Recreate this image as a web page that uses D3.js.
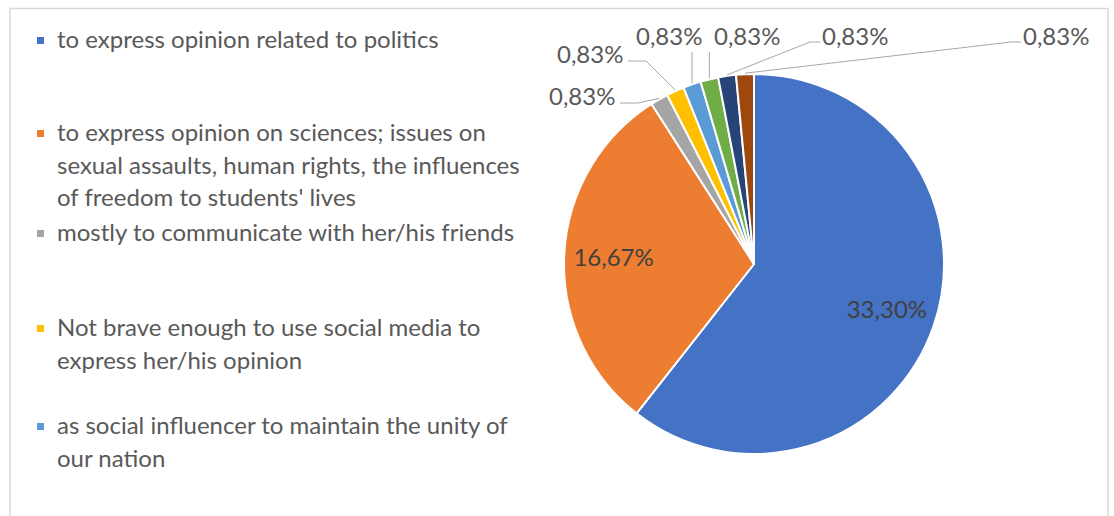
<!DOCTYPE html>
<html>
<head>
<meta charset="utf-8">
<script src="https://cdn.jsdelivr.net/npm/d3@7"></script>
<style>
  body { margin: 0; background: #fff; }
  text { font-family: Lato, "Open Sans", sans-serif; }
</style>
</head>
<body>
<div id="chart"></div>
<script>
// data
var categories = [
    "to express opinion related to politics",
    "to express opinion on sciences; issues on sexual assaults, human rights, the influences of freedom to students' lives",
    "mostly to communicate with her/his friends",
    "Not brave enough to use social media to express her/his opinion",
    "as social influencer to maintain the unity of our nation",
    "other 1",
    "other 2",
    "other 3"
];
var values = [33.30, 16.67, 0.83, 0.83, 0.83, 0.83, 0.83, 0.83];
var valueLabels = ["33,30%", "16,67%", "0,83%", "0,83%", "0,83%", "0,83%", "0,83%", "0,83%"];
var colors = ["#4472C4", "#ED7D31", "#A5A5A5", "#FFC000", "#5B9BD5", "#70AD47", "#264478", "#9E480E"];

// legend as wrapped in the picture (only the first five entries are shown)
var legendLines = [
    ["to express opinion related to politics"],
    ["to express opinion on sciences; issues on", "sexual assaults, human rights, the influences", "of freedom to students' lives"],
    ["mostly to communicate with her/his friends"],
    ["Not brave enough to use social media to", "express her/his opinion"],
    ["as social influencer to maintain the unity of", "our nation"]
];

var width = 1114, height = 516;
var cx = 754, cy = 264, radius = 190;
var fontSize = 24;

// where Excel put the small outside labels (label text left / middle y)
var outsideLabelPos = [
    null, null,
    { x: 549, y: 97, hook: "right" },
    { x: 557, y: 55, hook: "right" },
    { x: 636, y: 37, hook: "below" },
    { x: 714, y: 37, hook: "below" },
    { x: 822, y: 37, hook: "left" },
    { x: 1023, y: 37, hook: "left" }
];
var legendY = [40, 133, 233, 328, 426];

var svg = d3.select('#chart')
    .append('svg')
    .attr('width', width)
    .attr('height', height);

// chart frame
svg.append('rect')
    .attr('x', 10)
    .attr('y', 8.5)
    .attr('width', 1098)
    .attr('height', 540)
    .attr('fill', '#fff')
    .attr('stroke', '#d9d9d9')
    .attr('stroke-width', 1.5);

var pieData = d3.pie().sort(null)(values);

var arc = d3.arc().innerRadius(0).outerRadius(radius);
var labelArc = d3.arc().innerRadius(radius * 0.74).outerRadius(radius * 0.74);
var edgeArc = d3.arc().innerRadius(radius).outerRadius(radius);

var g = svg.append('g')
    .attr('transform', "translate(" + cx + "," + cy + ")");

g.selectAll('.slice')
    .data(pieData)
    .enter()
    .append('path')
    .attr('class', 'slice')
    .attr('d', arc)
    .attr('fill', function(d, i) { return colors[i]; })
    .attr('stroke', '#fff')
    .attr('stroke-width', 2)
    .attr('stroke-linejoin', 'round');

// inside labels for the two big slices
g.selectAll('.inside-label')
    .data(pieData.filter(function(d) { return d.index < 2; }))
    .enter()
    .append('text')
    .attr('class', 'inside-label')
    .attr('transform', function(d) {
        var c = labelArc.centroid(d);
        return "translate(" + c[0] + "," + c[1] + ")";
    })
    .attr('text-anchor', 'middle')
    .attr('dy', '0.35em')
    .attr('font-size', fontSize)
    .attr('fill', '#404040')
    .text(function(d) { return valueLabels[d.index]; });

// outside labels with leader lines
var small = pieData.filter(function(d) { return d.index >= 2; });

var outside = svg.append('g').attr('class', 'outside-labels');

outside.selectAll('.leader')
    .data(small)
    .enter()
    .append('polyline')
    .attr('class', 'leader')
    .attr('fill', 'none')
    .attr('stroke', '#a6a6a6')
    .attr('stroke-width', 1)
    .attr('points', function(d) {
        var p = outsideLabelPos[d.index];
        var e = edgeArc.centroid(d);
        var ex = cx + e[0], ey = cy + e[1] - 1;
        var textW = 68;
        if (p.hook == "right") {
            var sx = p.x + textW + 3, sy = p.y + 6;
            return [[sx, sy], [sx + 18, sy], [ex, ey]].join(' ');
        } else if (p.hook == "below") {
            return [[ex, p.y + 15], [ex, ey]].join(' ');
        } else {
            var lx = p.x - 2, ly = p.y + 5;
            return [[lx, ly], [lx - 10, ly], [ex, ey]].join(' ');
        }
    });

outside.selectAll('.outside-label')
    .data(small)
    .enter()
    .append('text')
    .attr('class', 'outside-label')
    .attr('x', function(d) { return outsideLabelPos[d.index].x; })
    .attr('y', function(d) { return outsideLabelPos[d.index].y; })
    .attr('dy', '0.35em')
    .attr('font-size', fontSize)
    .attr('fill', '#595959')
    .text(function(d) { return valueLabels[d.index]; });

// legend
var legend = svg.append('g').attr('class', 'legend');

var item = legend.selectAll('.legend-item')
    .data(legendLines)
    .enter()
    .append('g')
    .attr('class', 'legend-item')
    .attr('transform', function(d, i) { return "translate(0," + legendY[i] + ")"; });

item.append('rect')
    .attr('x', 37)
    .attr('y', -3)
    .attr('width', 7)
    .attr('height', 7)
    .attr('fill', function(d, i) { return colors[i]; });

item.append('text')
    .attr('x', 57)
    .attr('font-size', fontSize)
    .attr('fill', '#595959')
    .selectAll('tspan')
    .data(function(d) { return d; })
    .enter()
    .append('tspan')
    .attr('x', 57)
    .attr('y', function(d, j) { return j * 32.5; })
    .attr('dy', '0.35em')
    .text(function(d) { return d; });
</script>
</body>
</html>
